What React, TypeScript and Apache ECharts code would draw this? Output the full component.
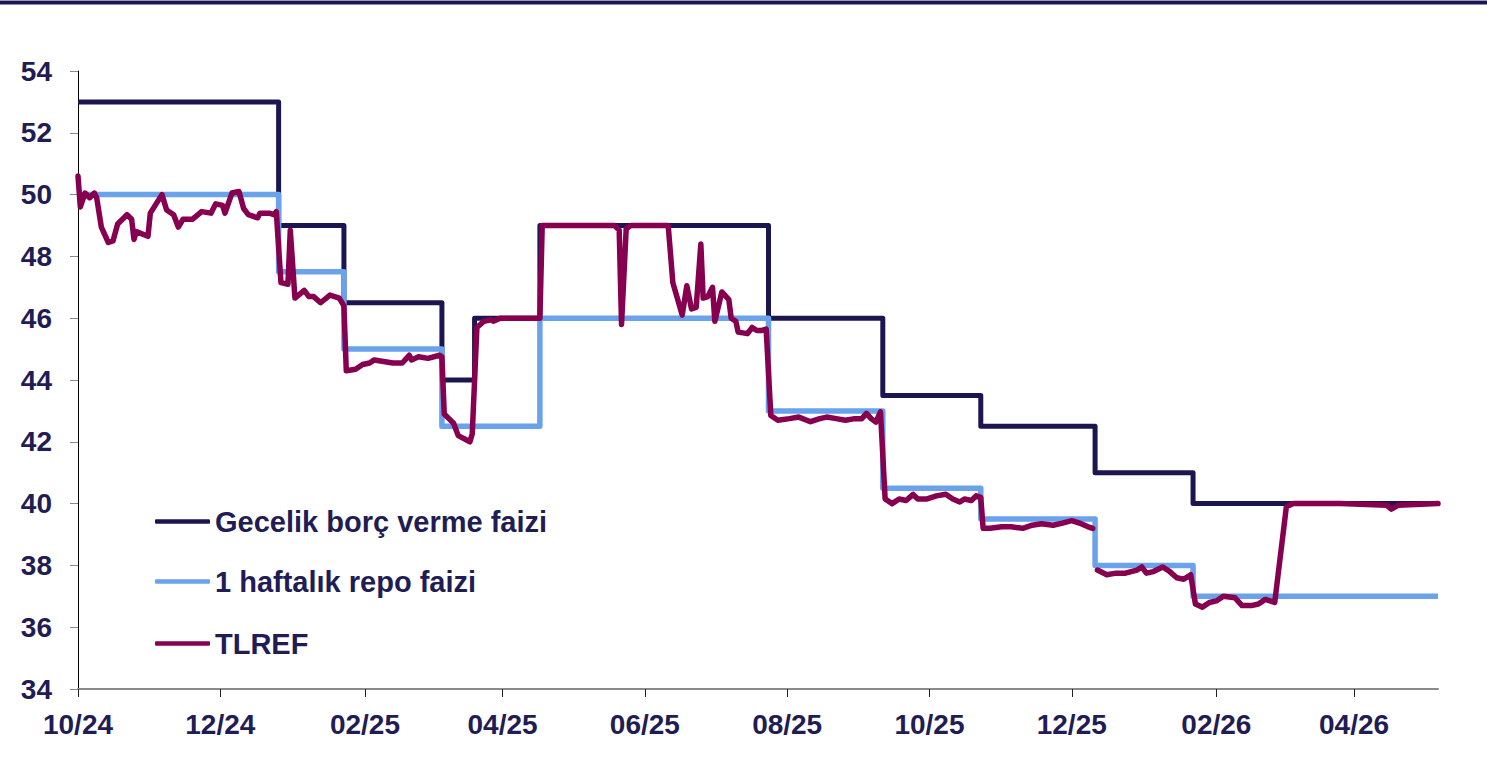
import React, { useEffect, useRef } from 'react';
import * as echarts from 'echarts';

const tickDates = ['2024-10-01', '2024-12-01', '2025-02-01', '2025-04-01', '2025-06-01', '2025-08-01', '2025-10-01', '2025-12-01', '2026-02-01', '2026-04-01'];
const axisStart = '2024-10-01';
const axisEnd = '2026-05-07';

const seriesNames = ['Gecelik borç verme faizi', '1 haftalık repo faizi', 'TLREF'];

const gecelikDates = ['2024-10-01', '2024-12-26', '2025-01-23', '2025-03-06', '2025-03-20', '2025-04-17', '2025-07-24', '2025-09-11', '2025-10-23', '2025-12-11', '2026-01-22', '2026-05-07'];
const gecelikValues = [53, 49, 46.5, 44, 46, 49, 46, 43.5, 42.5, 41, 40, 40];

const repoDates = ['2024-10-01', '2024-12-26', '2025-01-23', '2025-03-06', '2025-04-17', '2025-07-24', '2025-09-11', '2025-10-23', '2025-12-11', '2026-01-22', '2026-05-07'];
const repoValues = [50, 47.5, 45, 42.5, 46, 43, 40.5, 39.5, 38, 37, 37];

const tlrefDates = [
  '2024-10-01', '2024-10-02', '2024-10-04', '2024-10-06', '2024-10-08', '2024-10-09', '2024-10-11', '2024-10-14', '2024-10-16', '2024-10-18',
  '2024-10-22', '2024-10-24', '2024-10-25', '2024-10-26', '2024-10-31', '2024-11-01', '2024-11-06', '2024-11-08', '2024-11-11', '2024-11-13',
  '2024-11-15', '2024-11-19', '2024-11-23', '2024-11-27', '2024-11-29', '2024-12-02', '2024-12-03', '2024-12-06', '2024-12-09', '2024-12-11',
  '2024-12-13', '2024-12-17', '2024-12-18', '2024-12-22', '2024-12-24', '2024-12-25', '2024-12-27', '2024-12-30', '2024-12-31', '2025-01-02',
  '2025-01-06', '2025-01-08', '2025-01-10', '2025-01-13', '2025-01-17', '2025-01-21', '2025-01-23', '2025-01-24', '2025-01-28', '2025-01-31',
  '2025-02-03', '2025-02-05', '2025-02-09', '2025-02-13', '2025-02-17', '2025-02-20', '2025-02-21', '2025-02-24', '2025-02-28', '2025-03-05',
  '2025-03-06', '2025-03-07', '2025-03-09', '2025-03-11', '2025-03-13', '2025-03-18', '2025-03-19', '2025-03-21', '2025-03-24', '2025-03-27',
  '2025-03-28', '2025-03-31', '2025-04-17', '2025-04-18', '2025-05-19', '2025-05-21', '2025-05-22', '2025-05-24', '2025-05-26', '2025-06-11',
  '2025-06-13', '2025-06-17', '2025-06-19', '2025-06-21', '2025-06-23', '2025-06-25', '2025-06-26', '2025-06-28', '2025-06-30', '2025-07-01',
  '2025-07-04', '2025-07-07', '2025-07-08', '2025-07-10', '2025-07-11', '2025-07-15', '2025-07-17', '2025-07-19', '2025-07-21', '2025-07-23',
  '2025-07-25', '2025-07-28', '2025-08-02', '2025-08-06', '2025-08-11', '2025-08-15', '2025-08-18', '2025-08-22', '2025-08-26', '2025-08-30',
  '2025-09-02', '2025-09-04', '2025-09-06', '2025-09-08', '2025-09-10', '2025-09-12', '2025-09-15', '2025-09-18', '2025-09-21', '2025-09-24',
  '2025-09-26', '2025-09-30', '2025-10-04', '2025-10-08', '2025-10-11', '2025-10-14', '2025-10-16', '2025-10-19', '2025-10-21', '2025-10-23',
  '2025-10-24', '2025-10-27', '2025-11-01', '2025-11-05', '2025-11-10', '2025-11-14', '2025-11-18', '2025-11-23', '2025-11-27', '2025-12-01',
  '2025-12-05', '2025-12-08', '2025-12-10', '2025-12-11', '2025-12-12', '2025-12-16', '2025-12-20', '2025-12-24', '2025-12-29', '2025-12-31',
  '2026-01-02', '2026-01-05', '2026-01-09', '2026-01-12', '2026-01-15', '2026-01-18', '2026-01-21', '2026-01-23', '2026-01-26', '2026-01-29',
  '2026-02-01', '2026-02-04', '2026-02-09', '2026-02-12', '2026-02-16', '2026-02-19', '2026-02-22', '2026-02-24', '2026-02-26', '2026-03-03',
  '2026-03-06', '2026-03-26', '2026-04-15', '2026-04-17', '2026-04-20', '2026-05-07'
];
const tlrefValues = [
  50.6, 49.6, 50.05, 49.9, 50.05, 49.9, 48.95, 48.45, 48.5, 49.05,
  49.35, 49.2, 48.55, 48.8, 48.65, 49.4, 50.0, 49.5, 49.35, 48.95,
  49.2, 49.2, 49.45, 49.4, 49.7, 49.65, 49.4, 50.05, 50.1, 49.55,
  49.35, 49.25, 49.4, 49.4, 49.35, 49.45, 47.15, 47.1, 48.85, 46.65,
  46.9, 46.7, 46.7, 46.5, 46.75, 46.65, 46.4, 44.3, 44.35, 44.5,
  44.55, 44.65, 44.6, 44.55, 44.55, 44.8, 44.65, 44.75, 44.7, 44.8,
  44.75, 42.9, 42.75, 42.6, 42.2, 42.0, 42.25, 45.7, 45.9, 45.95,
  45.9, 46.0, 46.0, 49.0, 49.0, 48.85, 45.8, 48.9, 49.0, 49.0,
  47.15, 46.1, 47.05, 46.3, 46.35, 48.4, 46.65, 46.7, 47.0, 45.9,
  46.85, 46.6, 46.0, 45.9, 45.55, 45.5, 45.7, 45.6, 45.6, 45.65,
  42.85, 42.7, 42.75, 42.8, 42.65, 42.75, 42.8, 42.75, 42.7, 42.75,
  42.75, 42.92, 42.75, 42.64, 42.97, 40.15, 40.0, 40.15, 40.1, 40.3,
  40.15, 40.15, 40.25, 40.3, 40.15, 40.05, 40.15, 40.1, 40.25, 40.2,
  39.2, 39.2, 39.25, 39.25, 39.2, 39.3, 39.35, 39.3, 39.37, 39.45,
  39.35, 39.25, 39.2, null, 37.85, 37.7, 37.75, 37.75, 37.85, 37.95,
  37.75, 37.8, 37.95, 37.8, 37.6, 37.55, 37.7, 36.75, 36.65, 36.8,
  36.85, 37.0, 36.95, 36.7, 36.7, 36.75, 36.9, 36.85, 36.8, 39.9,
  40.0, 40.0, 39.95, 39.82, 39.95, 40.0
];

const NAVY = '#1c1650';
const BLUE = '#6aa2ec';
const MAGENTA = '#86004f';
const TEXT = '#221c55';
const FONT = '"Liberation Sans", Arial, Helvetica, sans-serif';

const toTs = (s: string) => {
  const [y, m, d] = s.split('-').map(Number);
  return new Date(y, m - 1, d).getTime();
};
const pair = (ds: string[], vs: (number | null)[]) => ds.map((d, i) => [toTs(d), vs[i] === null ? '-' : vs[i]]);

export default function App() {
  const ref = useRef<HTMLDivElement>(null);
  useEffect(() => {
    const chart = echarts.init(ref.current!, null, { renderer: 'svg' });
    const tickTs = tickDates.map(toTs);
    const legendTops = [502, 562, 624];
    const colors = [NAVY, BLUE, MAGENTA];
    chart.setOption({
      animation: false,
      backgroundColor: '#ffffff',
      graphic: [
        { type: 'rect', left: 0, top: 0, shape: { x: 0, y: 0, width: 1487, height: 1 }, style: { fill: '#9c98bc' } },
        { type: 'rect', left: 0, top: 1, shape: { x: 0, y: 0, width: 1487, height: 3.5 }, style: { fill: NAVY } },
      ],
      grid: { left: 78, right: 49, top: 71, bottom: 76, containLabel: false },
      legend: seriesNames.map((n, i) => ({
        data: [n],
        left: 150,
        top: legendTops[i],
        orient: 'vertical',
        selectedMode: false,
        icon: 'roundRect',
        itemWidth: 55,
        itemHeight: 4.5,
        itemStyle: { color: colors[i] },
        textStyle: { fontSize: 29, fontWeight: 'bold', color: TEXT, fontFamily: FONT },
      })),
      xAxis: {
        type: 'value',
        min: toTs(axisStart),
        max: toTs(axisEnd),
        axisLine: { show: true, lineStyle: { color: '#8a8a8a', width: 2 } },
        axisTick: { show: true, customValues: tickTs, length: 8, lineStyle: { color: '#222', width: 1 } },
        axisLabel: {
          customValues: tickTs,
          margin: 21,
          fontSize: 28,
          fontWeight: 'bold',
          color: TEXT,
          fontFamily: FONT,
          formatter: (v: number) => {
            const d = new Date(v);
            const mm = String(d.getMonth() + 1).padStart(2, '0');
            const yy = String(d.getFullYear() % 100).padStart(2, '0');
            return mm + '/' + yy;
          },
        },
        splitLine: { show: false },
      },
      yAxis: {
        type: 'value',
        min: 34,
        max: 54,
        interval: 2,
        axisLine: { show: true, lineStyle: { color: '#000', width: 1 } },
        axisTick: { show: true, length: 8, lineStyle: { color: '#888', width: 1 } },
        axisLabel: { margin: 26, fontSize: 28, fontWeight: 'bold', color: TEXT, fontFamily: FONT },
        splitLine: { show: false },
      },
      series: [
        {
          name: seriesNames[0], type: 'line', step: 'end', symbol: 'none',
          data: pair(gecelikDates, gecelikValues),
          lineStyle: { color: NAVY, width: 5, join: 'round' }, itemStyle: { color: NAVY },
        },
        {
          name: seriesNames[1], type: 'line', step: 'end', symbol: 'none',
          data: pair(repoDates, repoValues),
          lineStyle: { color: BLUE, width: 5.5, join: 'round' }, itemStyle: { color: BLUE },
        },
        {
          name: seriesNames[2], type: 'line', symbol: 'none', connectNulls: false,
          data: pair(tlrefDates, tlrefValues),
          lineStyle: { color: MAGENTA, width: 5.5, join: 'round', cap: 'round' }, itemStyle: { color: MAGENTA },
        },
      ],
    });
    return () => chart.dispose();
  }, []);
  return <div ref={ref} style={{ position: 'fixed', left: 0, top: 0, width: 1487, height: 765, background: '#fff' }} />;
}
